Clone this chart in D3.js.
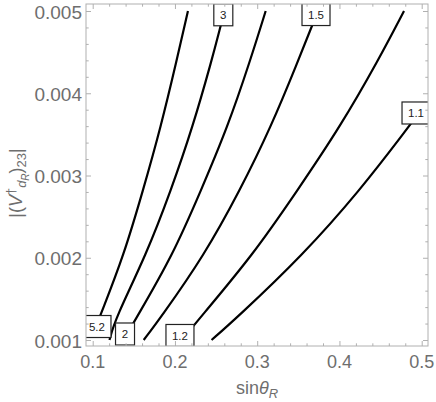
<!DOCTYPE html>
<html><head><meta charset="utf-8">
<script src="https://cdn.jsdelivr.net/npm/d3@7"></script>
<style>body{margin:0;background:#fff}svg{display:block}</style>
</head><body>
<script>
// ---- data ----
const xTicks = [0.1, 0.2, 0.3, 0.4, 0.5];
const xTickLabels = ["0.1", "0.2", "0.3", "0.4", "0.5"];
const yTicks = [0.001, 0.002, 0.003, 0.004, 0.005];
const yTickLabels = ["0.001", "0.002", "0.003", "0.004", "0.005"];
const contourLevels = ["5.2", "3", "2", "1.5", "1.2", "1.1"];
const contour52 = [[0.1022,0.00112],[0.1109,0.00134],[0.1378,0.00203],[0.1612,0.00282],[0.1828,0.00359],[0.2021,0.00440],[0.2158,0.00500]];
const contour3  = [[0.1204,0.00100],[0.1275,0.00126],[0.1648,0.00203],[0.1952,0.00282],[0.2216,0.00359],[0.2447,0.00440],[0.2548,0.00479],[0.2602,0.00500]];
const contour2  = [[0.1375,0.00100],[0.1526,0.00126],[0.1973,0.00203],[0.2317,0.00282],[0.2641,0.00359],[0.2916,0.00440],[0.3103,0.00500]];
const contour15 = [[0.1620,0.00100],[0.1818,0.00126],[0.2357,0.00203],[0.2791,0.00282],[0.3168,0.00359],[0.3500,0.00440],[0.3654,0.00479],[0.3739,0.00500]];
const contour12 = [[0.2086,0.00100],[0.2296,0.00126],[0.2945,0.00203],[0.3490,0.00282],[0.4007,0.00359],[0.4472,0.00440],[0.4785,0.00500]];
const contour11 = [[0.2445,0.00100],[0.2742,0.00126],[0.3553,0.00203],[0.4250,0.00282],[0.4809,0.00355],[0.4967,0.00376],[0.5000,0.00381]];
const contours = [contour52, contour3, contour2, contour15, contour12, contour11];
// label anchor points [x, y] in data units
const labelPos = [[0.1052,0.001164],[0.2588,0.004954],[0.1393,0.001073],[0.3715,0.004957],[0.2061,0.001055],[0.4931,0.003760]];

const W = 436, H = 402;
const frame = {l: 86, r: 428, t: 4, b: 346};
const x = d3.scaleLinear().domain([0.1, 0.5]).range([92.7, 421.7]);
const y = d3.scaleLinear().domain([0.001, 0.005]).range([340, 11]);

const svg = d3.select("body").append("svg").attr("width", W).attr("height", H)
  .style("font-family", "'Liberation Sans', Arial, sans-serif");

svg.append("defs").append("clipPath").attr("id", "clip")
  .append("rect").attr("x", frame.l).attr("y", frame.t)
  .attr("width", frame.r - frame.l).attr("height", frame.b - frame.t);

const plot = svg.append("g").attr("clip-path", "url(#clip)");
const line = d3.line().x(d => x(d[0])).y(d => y(d[1])).curve(d3.curveBasis);
plot.selectAll("path.c").data(contours).join("path").attr("class", "c")
  .attr("d", line).attr("fill", "none").attr("stroke", "#000").attr("stroke-width", 2.2);

// labels
const lab = plot.selectAll("g.lab").data(contourLevels).join("g").attr("class", "lab")
  .attr("transform", (d, i) => `translate(${x(labelPos[i][0])},${y(labelPos[i][1])})`);
lab.append("rect")
  .attr("x", d => d.length > 1 ? -14 : -9.5).attr("y", -11)
  .attr("width", d => d.length > 1 ? 28 : 19).attr("height", 22)
  .attr("fill", "#fff").attr("stroke", "#222").attr("stroke-width", 1.2);
lab.append("text").text(d => d).attr("text-anchor", "middle").attr("dy", "0.36em")
  .attr("font-size", 11.5).attr("fill", "#222");

// frame
const gray = "#b0b0b0";
svg.append("rect").attr("x", frame.l).attr("y", frame.t)
  .attr("width", frame.r - frame.l).attr("height", frame.b - frame.t)
  .attr("fill", "none").attr("stroke", gray).attr("stroke-width", 1);

// axes (ticks inward)
const xMinor = d3.range(0.1, 0.5001, 0.02).filter(v => Math.abs(v*10 - Math.round(v*10)) > 1e-6);
const yMinor = d3.range(0.001, 0.005001, 0.0002).filter(v => Math.abs(v*1000 - Math.round(v*1000)) > 1e-6);
function styleAxis(g){ g.select(".domain").remove(); g.selectAll("line").attr("stroke", gray); g.selectAll("text").remove(); }
svg.append("g").attr("transform", `translate(0,${frame.b})`).call(d3.axisBottom(x).tickValues(xTicks).tickSizeInner(-5)).call(styleAxis);
svg.append("g").attr("transform", `translate(0,${frame.b})`).call(d3.axisBottom(x).tickValues(xMinor).tickSizeInner(-2.7)).call(styleAxis);
svg.append("g").attr("transform", `translate(0,${frame.t})`).call(d3.axisTop(x).tickValues(xTicks).tickSizeInner(-5)).call(styleAxis);
svg.append("g").attr("transform", `translate(0,${frame.t})`).call(d3.axisTop(x).tickValues(xMinor).tickSizeInner(-2.7)).call(styleAxis);
svg.append("g").attr("transform", `translate(${frame.l},0)`).call(d3.axisLeft(y).tickValues(yTicks).tickSizeInner(-5)).call(styleAxis);
svg.append("g").attr("transform", `translate(${frame.l},0)`).call(d3.axisLeft(y).tickValues(yMinor).tickSizeInner(-2.7)).call(styleAxis);
svg.append("g").attr("transform", `translate(${frame.r},0)`).call(d3.axisRight(y).tickValues(yTicks).tickSizeInner(-5)).call(styleAxis);
svg.append("g").attr("transform", `translate(${frame.r},0)`).call(d3.axisRight(y).tickValues(yMinor).tickSizeInner(-2.7)).call(styleAxis);

// tick labels
const tcol = "#6e6e6e";
svg.selectAll("text.xt").data(xTicks).join("text").attr("class", "xt")
  .attr("x", d => x(d)).attr("y", 368).attr("text-anchor", "middle")
  .attr("font-size", 18).attr("fill", tcol).text((d, i) => xTickLabels[i]);
svg.selectAll("text.yt").data(yTicks).join("text").attr("class", "yt")
  .attr("x", 82).attr("y", d => y(d) + 7.5).attr("text-anchor", "end")
  .attr("font-size", 19).attr("fill", tcol).text((d, i) => yTickLabels[i]);

// axis titles
const xt = svg.append("text").attr("x", 257).attr("y", 394).attr("text-anchor", "middle")
  .attr("font-size", 18).attr("fill", tcol);
xt.append("tspan").text("sin");
xt.append("tspan").attr("font-style", "italic").text("θ");
xt.append("tspan").attr("font-style", "italic").attr("font-size", 13).attr("dy", 4).text("R");

const yt = svg.append("text").attr("transform", "translate(22,183) rotate(-90)")
  .attr("text-anchor", "middle").attr("font-size", 18).attr("fill", tcol);
yt.append("tspan").text("|(");
yt.append("tspan").attr("font-style", "italic").text("V");
yt.append("tspan").attr("font-size", 13).attr("dy", -7).text("†");
yt.append("tspan").attr("font-size", 13).attr("font-style", "italic").attr("dy", 11).text("d");
yt.append("tspan").attr("font-size", 10).attr("font-style", "italic").attr("dy", 3).text("R");
yt.append("tspan").attr("dy", -7).text(")");
yt.append("tspan").attr("font-size", 13).attr("dy", 4).text("23");
yt.append("tspan").attr("dy", -4).text("|");
</script>
</body></html>
